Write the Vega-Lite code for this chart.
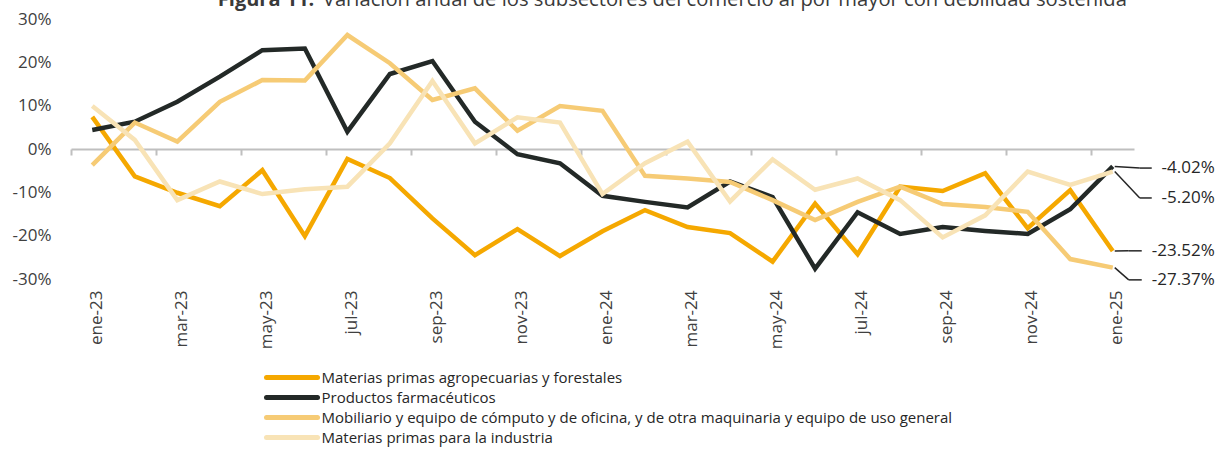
{
  "$schema": "https://vega.github.io/schema/vega-lite/v6.json",
  "autosize": {"type": "none"},
  "width": 1063,
  "height": 260,
  "padding": {"left": 71, "top": 19, "right": 83, "bottom": 170},
  "background": "white",
  "config": {
    "view": {"stroke": null},
    "font": "Open Sans",
    "text": {"font": "Open Sans", "color": "#404040"}
  },
  "datasets": {
    "series": [
      {"mes": "ene-23", "serie": "Materias primas agropecuarias y forestales", "valor": 7.4},
      {"mes": "feb-23", "serie": "Materias primas agropecuarias y forestales", "valor": -6.3},
      {"mes": "mar-23", "serie": "Materias primas agropecuarias y forestales", "valor": -10.1},
      {"mes": "abr-23", "serie": "Materias primas agropecuarias y forestales", "valor": -13.2},
      {"mes": "may-23", "serie": "Materias primas agropecuarias y forestales", "valor": -4.9},
      {"mes": "jun-23", "serie": "Materias primas agropecuarias y forestales", "valor": -20.1},
      {"mes": "jul-23", "serie": "Materias primas agropecuarias y forestales", "valor": -2.3},
      {"mes": "ago-23", "serie": "Materias primas agropecuarias y forestales", "valor": -6.7},
      {"mes": "sep-23", "serie": "Materias primas agropecuarias y forestales", "valor": -16.0},
      {"mes": "oct-23", "serie": "Materias primas agropecuarias y forestales", "valor": -24.5},
      {"mes": "nov-23", "serie": "Materias primas agropecuarias y forestales", "valor": -18.5},
      {"mes": "dic-23", "serie": "Materias primas agropecuarias y forestales", "valor": -24.7},
      {"mes": "ene-24", "serie": "Materias primas agropecuarias y forestales", "valor": -19.0},
      {"mes": "feb-24", "serie": "Materias primas agropecuarias y forestales", "valor": -14.1},
      {"mes": "mar-24", "serie": "Materias primas agropecuarias y forestales", "valor": -18.0},
      {"mes": "abr-24", "serie": "Materias primas agropecuarias y forestales", "valor": -19.4},
      {"mes": "may-24", "serie": "Materias primas agropecuarias y forestales", "valor": -26.0},
      {"mes": "jun-24", "serie": "Materias primas agropecuarias y forestales", "valor": -12.6},
      {"mes": "jul-24", "serie": "Materias primas agropecuarias y forestales", "valor": -24.3},
      {"mes": "ago-24", "serie": "Materias primas agropecuarias y forestales", "valor": -8.7},
      {"mes": "sep-24", "serie": "Materias primas agropecuarias y forestales", "valor": -9.7},
      {"mes": "oct-24", "serie": "Materias primas agropecuarias y forestales", "valor": -5.6},
      {"mes": "nov-24", "serie": "Materias primas agropecuarias y forestales", "valor": -18.3},
      {"mes": "dic-24", "serie": "Materias primas agropecuarias y forestales", "valor": -9.5},
      {"mes": "ene-25", "serie": "Materias primas agropecuarias y forestales", "valor": -23.52},
      {"mes": "ene-23", "serie": "Productos farmacéuticos", "valor": 4.4},
      {"mes": "feb-23", "serie": "Productos farmacéuticos", "valor": 6.3},
      {"mes": "mar-23", "serie": "Productos farmacéuticos", "valor": 10.9},
      {"mes": "abr-23", "serie": "Productos farmacéuticos", "valor": 16.7},
      {"mes": "may-23", "serie": "Productos farmacéuticos", "valor": 22.8},
      {"mes": "jun-23", "serie": "Productos farmacéuticos", "valor": 23.2},
      {"mes": "jul-23", "serie": "Productos farmacéuticos", "valor": 4.0},
      {"mes": "ago-23", "serie": "Productos farmacéuticos", "valor": 17.3},
      {"mes": "sep-23", "serie": "Productos farmacéuticos", "valor": 20.3},
      {"mes": "oct-23", "serie": "Productos farmacéuticos", "valor": 6.3},
      {"mes": "nov-23", "serie": "Productos farmacéuticos", "valor": -1.2},
      {"mes": "dic-23", "serie": "Productos farmacéuticos", "valor": -3.3},
      {"mes": "ene-24", "serie": "Productos farmacéuticos", "valor": -10.8},
      {"mes": "feb-24", "serie": "Productos farmacéuticos", "valor": -12.2},
      {"mes": "mar-24", "serie": "Productos farmacéuticos", "valor": -13.5},
      {"mes": "abr-24", "serie": "Productos farmacéuticos", "valor": -7.5},
      {"mes": "may-24", "serie": "Productos farmacéuticos", "valor": -11.1},
      {"mes": "jun-24", "serie": "Productos farmacéuticos", "valor": -27.6},
      {"mes": "jul-24", "serie": "Productos farmacéuticos", "valor": -14.6},
      {"mes": "ago-24", "serie": "Productos farmacéuticos", "valor": -19.6},
      {"mes": "sep-24", "serie": "Productos farmacéuticos", "valor": -18.0},
      {"mes": "oct-24", "serie": "Productos farmacéuticos", "valor": -18.9},
      {"mes": "nov-24", "serie": "Productos farmacéuticos", "valor": -19.6},
      {"mes": "dic-24", "serie": "Productos farmacéuticos", "valor": -13.9},
      {"mes": "ene-25", "serie": "Productos farmacéuticos", "valor": -4.02},
      {"mes": "ene-23", "serie": "Mobiliario y equipo de cómputo y de oficina, y de otra maquinaria y equipo de uso general", "valor": -3.7},
      {"mes": "feb-23", "serie": "Mobiliario y equipo de cómputo y de oficina, y de otra maquinaria y equipo de uso general", "valor": 6.1},
      {"mes": "mar-23", "serie": "Mobiliario y equipo de cómputo y de oficina, y de otra maquinaria y equipo de uso general", "valor": 1.7},
      {"mes": "abr-23", "serie": "Mobiliario y equipo de cómputo y de oficina, y de otra maquinaria y equipo de uso general", "valor": 10.9},
      {"mes": "may-23", "serie": "Mobiliario y equipo de cómputo y de oficina, y de otra maquinaria y equipo de uso general", "valor": 15.9},
      {"mes": "jun-23", "serie": "Mobiliario y equipo de cómputo y de oficina, y de otra maquinaria y equipo de uso general", "valor": 15.8},
      {"mes": "jul-23", "serie": "Mobiliario y equipo de cómputo y de oficina, y de otra maquinaria y equipo de uso general", "valor": 26.3},
      {"mes": "ago-23", "serie": "Mobiliario y equipo de cómputo y de oficina, y de otra maquinaria y equipo de uso general", "valor": 19.8},
      {"mes": "sep-23", "serie": "Mobiliario y equipo de cómputo y de oficina, y de otra maquinaria y equipo de uso general", "valor": 11.3},
      {"mes": "oct-23", "serie": "Mobiliario y equipo de cómputo y de oficina, y de otra maquinaria y equipo de uso general", "valor": 14.0},
      {"mes": "nov-23", "serie": "Mobiliario y equipo de cómputo y de oficina, y de otra maquinaria y equipo de uso general", "valor": 4.2},
      {"mes": "dic-23", "serie": "Mobiliario y equipo de cómputo y de oficina, y de otra maquinaria y equipo de uso general", "valor": 9.9},
      {"mes": "ene-24", "serie": "Mobiliario y equipo de cómputo y de oficina, y de otra maquinaria y equipo de uso general", "valor": 8.8},
      {"mes": "feb-24", "serie": "Mobiliario y equipo de cómputo y de oficina, y de otra maquinaria y equipo de uso general", "valor": -6.2},
      {"mes": "mar-24", "serie": "Mobiliario y equipo de cómputo y de oficina, y de otra maquinaria y equipo de uso general", "valor": -6.8},
      {"mes": "abr-24", "serie": "Mobiliario y equipo de cómputo y de oficina, y de otra maquinaria y equipo de uso general", "valor": -7.6},
      {"mes": "may-24", "serie": "Mobiliario y equipo de cómputo y de oficina, y de otra maquinaria y equipo de uso general", "valor": -11.8},
      {"mes": "jun-24", "serie": "Mobiliario y equipo de cómputo y de oficina, y de otra maquinaria y equipo de uso general", "valor": -16.4},
      {"mes": "jul-24", "serie": "Mobiliario y equipo de cómputo y de oficina, y de otra maquinaria y equipo de uso general", "valor": -12.2},
      {"mes": "ago-24", "serie": "Mobiliario y equipo de cómputo y de oficina, y de otra maquinaria y equipo de uso general", "valor": -8.7},
      {"mes": "sep-24", "serie": "Mobiliario y equipo de cómputo y de oficina, y de otra maquinaria y equipo de uso general", "valor": -12.7},
      {"mes": "oct-24", "serie": "Mobiliario y equipo de cómputo y de oficina, y de otra maquinaria y equipo de uso general", "valor": -13.4},
      {"mes": "nov-24", "serie": "Mobiliario y equipo de cómputo y de oficina, y de otra maquinaria y equipo de uso general", "valor": -14.5},
      {"mes": "dic-24", "serie": "Mobiliario y equipo de cómputo y de oficina, y de otra maquinaria y equipo de uso general", "valor": -25.4},
      {"mes": "ene-25", "serie": "Mobiliario y equipo de cómputo y de oficina, y de otra maquinaria y equipo de uso general", "valor": -27.37},
      {"mes": "ene-23", "serie": "Materias primas para la industria", "valor": 9.9},
      {"mes": "feb-23", "serie": "Materias primas para la industria", "valor": 2.1},
      {"mes": "mar-23", "serie": "Materias primas para la industria", "valor": -11.8},
      {"mes": "abr-23", "serie": "Materias primas para la industria", "valor": -7.5},
      {"mes": "may-23", "serie": "Materias primas para la industria", "valor": -10.4},
      {"mes": "jun-23", "serie": "Materias primas para la industria", "valor": -9.3},
      {"mes": "jul-23", "serie": "Materias primas para la industria", "valor": -8.7},
      {"mes": "ago-23", "serie": "Materias primas para la industria", "valor": 1.3},
      {"mes": "sep-23", "serie": "Materias primas para la industria", "valor": 15.7},
      {"mes": "oct-23", "serie": "Materias primas para la industria", "valor": 1.3},
      {"mes": "nov-23", "serie": "Materias primas para la industria", "valor": 7.3},
      {"mes": "dic-23", "serie": "Materias primas para la industria", "valor": 6.1},
      {"mes": "ene-24", "serie": "Materias primas para la industria", "valor": -10.4},
      {"mes": "feb-24", "serie": "Materias primas para la industria", "valor": -3.3},
      {"mes": "mar-24", "serie": "Materias primas para la industria", "valor": 1.7},
      {"mes": "abr-24", "serie": "Materias primas para la industria", "valor": -12.1},
      {"mes": "may-24", "serie": "Materias primas para la industria", "valor": -2.4},
      {"mes": "jun-24", "serie": "Materias primas para la industria", "valor": -9.4},
      {"mes": "jul-24", "serie": "Materias primas para la industria", "valor": -6.8},
      {"mes": "ago-24", "serie": "Materias primas para la industria", "valor": -11.8},
      {"mes": "sep-24", "serie": "Materias primas para la industria", "valor": -20.4},
      {"mes": "oct-24", "serie": "Materias primas para la industria", "valor": -15.3},
      {"mes": "nov-24", "serie": "Materias primas para la industria", "valor": -5.2},
      {"mes": "dic-24", "serie": "Materias primas para la industria", "valor": -8.3},
      {"mes": "ene-25", "serie": "Materias primas para la industria", "valor": -5.2}
    ],
    "etiquetas": [
      {"mes": "ene-25", "valor": -4.02, "posEtiqueta": -4.4, "texto": "-4.02%"},
      {"mes": "ene-25", "valor": -5.2, "posEtiqueta": -11.3, "texto": "-5.20%"},
      {"mes": "ene-25", "valor": -23.52, "posEtiqueta": -23.5, "texto": "-23.52%"},
      {"mes": "ene-25", "valor": -27.37, "posEtiqueta": -30.2, "texto": "-27.37%"}
    ],
    "titulo": [
      {"parte": "Figura 11.", "resto": "Variación anual de los subsectores del comercio al por mayor con debilidad sostenida"}
    ]
  },
  "encoding": {
    "x": {
      "field": "mes",
      "type": "ordinal",
      "sort": null,
      "scale": {
        "type": "point",
        "padding": 0.5,
        "domain": ["ene-23","feb-23","mar-23","abr-23","may-23","jun-23","jul-23","ago-23","sep-23","oct-23","nov-23","dic-23","ene-24","feb-24","mar-24","abr-24","may-24","jun-24","jul-24","ago-24","sep-24","oct-24","nov-24","dic-24","ene-25"]
      },
      "axis": {
        "title": null,
        "orient": "bottom",
        "offset": -130,
        "values": ["ene-23","mar-23","may-23","jul-23","sep-23","nov-23","ene-24","mar-24","may-24","jul-24","sep-24","nov-24","ene-25"],
        "domainColor": "#BFBFBF",
        "domainWidth": 2,
        "tickColor": "#BFBFBF",
        "tickWidth": 2,
        "tickSize": 6,
        "tickOffset": -21.25,
        "labelOffset": 25,
        "labelAngle": -90,
        "labelAlign": "right",
        "labelBaseline": "middle",
        "labelPadding": 135,
        "labelFont": "Open Sans",
        "labelFontSize": 17,
        "labelColor": "#404040",
        "grid": false
      }
    },
    "y": {
      "type": "quantitative",
      "scale": {"domain": [-30, 30], "nice": false, "zero": false},
      "axis": {
        "title": null,
        "values": [-30, -20, -10, 0, 10, 20, 30],
        "labelExpr": "datum.value + '%'",
        "domain": false,
        "ticks": false,
        "tickSize": 0,
        "grid": false,
        "labelPadding": 20,
        "labelFont": "Open Sans",
        "labelFontSize": 17,
        "labelColor": "#404040"
      }
    }
  },
  "layer": [
    {
      "data": {"name": "series"},
      "mark": {"type": "line", "strokeWidth": 4.5, "clip": false},
      "encoding": {
        "y": {"field": "valor", "type": "quantitative"},
        "color": {
          "field": "serie",
          "type": "nominal",
          "scale": {
            "domain": ["Materias primas agropecuarias y forestales", "Productos farmacéuticos", "Mobiliario y equipo de cómputo y de oficina, y de otra maquinaria y equipo de uso general", "Materias primas para la industria"],
            "range": ["#F5A800", "#232927", "#F6CB75", "#F8E3B6"]
          },
          "legend": {
            "title": null,
            "orient": "none",
            "legendX": 213.5,
            "legendY": 351,
            "direction": "vertical",
            "padding": 0,
            "symbolType": "M-5.1,0H5.1",
            "symbolSize": 100,
            "symbolStrokeWidth": 5,
            "labelFont": "Open Sans",
            "labelFontSize": 15,
            "labelColor": "#262626",
            "labelOffset": 22,
            "labelLimit": 0,
            "rowPadding": -1,
            "encode": {"symbols": {"update": {"strokeCap": {"value": "round"}}}}
          }
        }
      }
    },
    {
      "data": {"name": "etiquetas"},
      "transform": [{"filter": "datum.valor > -10"}],
      "mark": {"type": "rule", "color": "#262626", "strokeWidth": 1.5, "xOffset": 2, "x2Offset": 27},
      "encoding": {
        "x2": {"field": "mes"},
        "y": {"field": "valor", "type": "quantitative"},
        "y2": {"field": "posEtiqueta"}
      }
    },
    {
      "data": {"name": "etiquetas"},
      "transform": [{"filter": "datum.valor > -10"}],
      "mark": {"type": "rule", "color": "#262626", "strokeWidth": 1.5, "xOffset": 27, "x2Offset": 39},
      "encoding": {
        "x2": {"field": "mes"},
        "y": {"field": "posEtiqueta", "type": "quantitative"}
      }
    },
    {
      "data": {"name": "etiquetas"},
      "transform": [{"filter": "datum.valor <= -10"}],
      "mark": {"type": "rule", "color": "#262626", "strokeWidth": 1.5, "xOffset": 2, "x2Offset": 16},
      "encoding": {
        "x2": {"field": "mes"},
        "y": {"field": "valor", "type": "quantitative"},
        "y2": {"field": "posEtiqueta"}
      }
    },
    {
      "data": {"name": "etiquetas"},
      "transform": [{"filter": "datum.valor <= -10"}],
      "mark": {"type": "rule", "color": "#262626", "strokeWidth": 1.5, "xOffset": 16, "x2Offset": 29},
      "encoding": {
        "x2": {"field": "mes"},
        "y": {"field": "posEtiqueta", "type": "quantitative"}
      }
    },
    {
      "data": {"name": "etiquetas"},
      "mark": {"type": "text", "align": "right", "baseline": "middle", "dx": 102, "fontSize": 17, "font": "Open Sans", "color": "#262626"},
      "encoding": {
        "y": {"field": "posEtiqueta", "type": "quantitative"},
        "text": {"field": "texto"}
      }
    },
    {
      "data": {"name": "titulo"},
      "mark": {"type": "text", "align": "left", "baseline": "alphabetic", "dx": -2, "fontSize": 20, "fontWeight": "bold", "font": "Open Sans", "color": "#3A3A3A"},
      "encoding": {
        "x": {"datum": "abr-23"},
        "y": {"datum": 32.9},
        "text": {"field": "parte"}
      }
    },
    {
      "data": {"name": "titulo"},
      "mark": {"type": "text", "align": "left", "baseline": "alphabetic", "dx": 18, "fontSize": 20.2, "font": "Open Sans", "color": "#3A3A3A"},
      "encoding": {
        "x": {"datum": "jun-23"},
        "y": {"datum": 32.9},
        "text": {"field": "resto"}
      }
    }
  ]
}
